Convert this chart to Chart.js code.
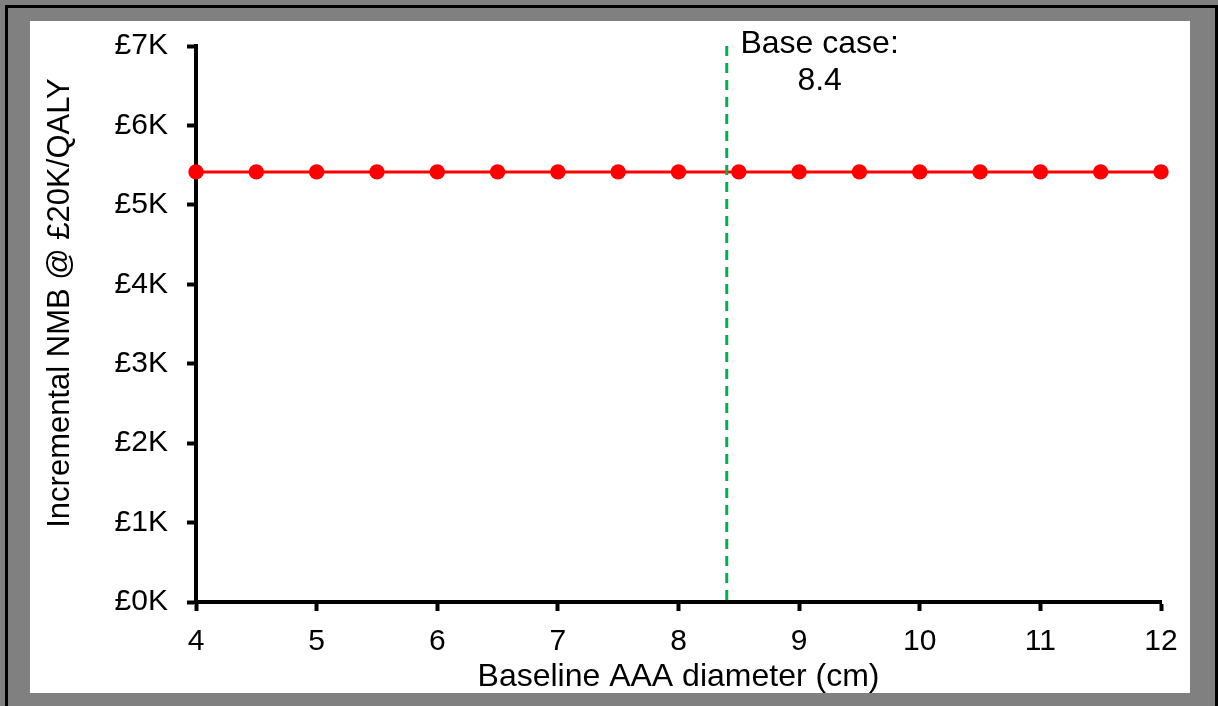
<!DOCTYPE html>
<html>
<head>
<meta charset="utf-8">
<script src="https://cdn.jsdelivr.net/npm/chart.js@4"></script>
<style>
    html, body { margin: 0; padding: 0; background: #808080; width: 1218px; height: 706px; overflow: hidden; }
    #frame { position: absolute; left: 5px; top: 5px; width: 1207px; height: 720px; border: 3px solid #000; }
    #panel { position: absolute; left: 30px; top: 21px; width: 1160px; height: 672px; background: #fff; }
</style>
</head>
<body>
<div id="frame"></div>
<div id="panel"><canvas id="nmbChart"></canvas></div>
<script>
const diameters = [4, 4.5, 5, 5.5, 6, 6.5, 7, 7.5, 8, 8.5, 9, 9.5, 10, 10.5, 11, 11.5, 12];
const nmbValues = [5415, 5415, 5415, 5415, 5415, 5415, 5415, 5415, 5415, 5415, 5415, 5415, 5415, 5415, 5415, 5415, 5415];
const baseCase = 8.4;
const yTicks = [0, 1000, 2000, 3000, 4000, 5000, 6000, 7000];
const baseLabelLines = ['Base case:', '8.4'];

document.addEventListener('DOMContentLoaded', function () {
    Chart.defaults.font.family = '"Liberation Sans", Arial, sans-serif';
    Chart.defaults.font.size = 30;
    Chart.defaults.color = '#000';

    const points = diameters.map(function (d, i) { return { x: d, y: nmbValues[i] }; });

    const extras = {
        id: 'extras',
        afterDatasetsDraw: function (chart) {
            const ctx = chart.ctx;
            const xs = chart.scales.x;
            const ys = chart.scales.y;
            ctx.save();
            ctx.fillStyle = '#000';
            ctx.font = '32px "Liberation Sans", Arial, sans-serif';
            ctx.textAlign = 'center';
            ctx.textBaseline = 'alphabetic';
            const lx = xs.getPixelForValue(9.17);
            ctx.fillText(baseLabelLines[0], lx, ys.getPixelForValue(6912));
            ctx.fillText(baseLabelLines[1], lx, ys.getPixelForValue(6446));
            // y-axis title
            ctx.font = '31px "Liberation Sans", Arial, sans-serif';
            ctx.translate(30, 282);
            ctx.rotate(-Math.PI / 2);
            ctx.textBaseline = 'middle';
            ctx.fillText('Incremental NMB @ £20K/QALY', 0, 0);
            ctx.restore();
        }
    };

    new Chart(document.getElementById('nmbChart'), {
        type: 'line',
        data: {
            datasets: [
                {
                    label: 'NMB',
                    data: points,
                    borderColor: '#ff0000',
                    backgroundColor: '#ff0000',
                    borderWidth: 3,
                    pointRadius: 7.7,
                    pointBorderWidth: 0,
                    fill: false,
                    clip: false,
                    order: 1
                },
                {
                    label: 'Base case',
                    data: [{ x: baseCase, y: 7000 }, { x: baseCase, y: 0 }],
                    borderColor: '#00b050',
                    borderWidth: 3,
                    borderDash: [10, 7],
                    pointRadius: 0,
                    fill: false,
                    clip: false,
                    order: 0
                }
            ]
        },
        options: {
            responsive: true,
            maintainAspectRatio: false,
            animation: false,
            layout: {
                padding: { top: 25, right: 29, left: 0, bottom: 0 }
            },
            plugins: {
                legend: { display: false },
                tooltip: { enabled: false }
            },
            scales: {
                x: {
                    type: 'linear',
                    min: 4,
                    max: 12,
                    afterFit: function (scale) {
                        scale.height = 91;
                        scale.paddingLeft = 0;
                        scale.paddingRight = 0;
                    },
                    border: { color: '#000', width: 4 },
                    grid: {
                        drawOnChartArea: false,
                        drawTicks: true,
                        tickLength: 9,
                        tickWidth: 4,
                        tickColor: '#000'
                    },
                    ticks: {
                        stepSize: 1,
                        padding: 13,
                        maxRotation: 0,
                        color: '#000'
                    },
                    title: {
                        display: true,
                        text: 'Baseline AAA diameter (cm)',
                        color: '#000',
                        font: { size: 32 },
                        padding: { top: 0, bottom: -3 }
                    }
                },
                y: {
                    min: 0,
                    max: 7000,
                    afterFit: function (scale) {
                        scale.width = 166;
                        scale.paddingTop = 0;
                        scale.paddingBottom = 0;
                    },
                    afterBuildTicks: function (scale) {
                        scale.ticks = yTicks.map(function (v) { return { value: v }; });
                    },
                    border: { color: '#000', width: 4 },
                    grid: {
                        drawOnChartArea: false,
                        drawTicks: true,
                        tickLength: 9,
                        tickWidth: 4,
                        tickColor: '#000'
                    },
                    ticks: {
                        padding: 19,
                        color: '#000',
                        callback: function (value) {
                            return '£' + (value / 1000) + 'K';
                        }
                    }
                }
            }
        },
        plugins: [extras]
    });
});
</script>
</body>
</html>
